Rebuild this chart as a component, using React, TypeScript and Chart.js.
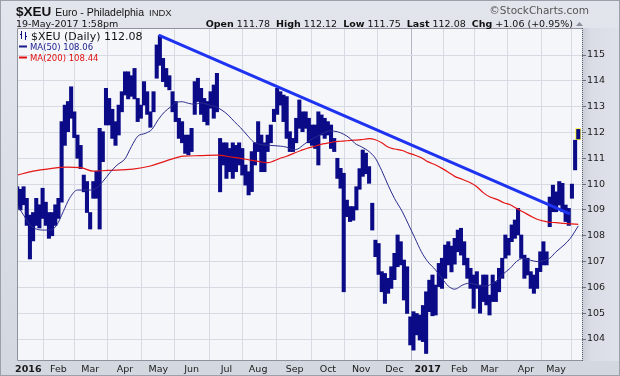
import { useEffect, useRef } from 'react';
import { Chart, registerables } from 'chart.js';

Chart.register(...registerables);

// ---- data (trading-day index, 0 = first session of Jan 2016) ----
const barIdx = [
  -7, -5, -3, -1, 1, 3, 5, 7, 9, 11, 13, 15, 17, 19, 21, 23, 25, 27, 29, 31, 33, 35, 37, 39, 41, 43, 45, 47, 49, 51,
  53, 55, 57, 59, 61, 63, 65, 67, 69, 71, 73, 75, 77, 79, 81, 83, 85, 87, 89, 91, 93, 95, 97, 99, 101, 103, 105, 107, 109, 111,
  113, 115, 117, 119, 121, 123, 125, 127, 129, 131, 133, 135, 137, 139, 141, 143, 145, 147, 149, 151, 153, 155, 157, 159, 161, 163, 165, 167, 169, 171,
  173, 175, 177, 179, 181, 183, 185, 187, 189, 191, 193, 195, 197, 199, 201, 203, 205, 207, 209, 211, 213, 215, 217, 219, 221, 223, 225, 227, 229, 231,
  233, 235, 237, 239, 241, 243, 245, 247, 249, 251, 253, 255, 257, 259, 261, 263, 265, 267, 269, 271, 273, 275, 277, 279, 281, 283, 285, 287, 289, 291,
  293, 295, 297, 299, 301, 303, 305, 307, 309, 311, 313, 315, 317, 319, 321, 323, 325, 327, 329, 331, 333, 335, 337, 339, 341, 343, 345, 347,
];
const barHigh = [
  109.90, 109.80, 109.90, 109.45, 108.80, 108.90, 109.45, 109.20, 109.84, 109.30, 108.90, 108.90, 109.20, 109.45, 112.42, 113.06, 113.20, 113.77, 112.80, 111.90,
  111.50, 110.35, 110.10, 108.90, 110.10, 110.50, 112.16, 112.03, 113.71, 113.32, 112.90, 112.42, 113.06, 113.58, 114.35, 114.35, 114.20, 114.48, 113.32, 113.06,
  113.97, 113.58, 112.80, 113.58, 115.39, 115.75, 114.87, 114.48, 114.20, 113.58, 113.20, 112.55, 112.42, 111.90, 111.90, 112.16, 113.97, 114.10, 113.71, 113.32,
  113.20, 113.58, 113.84, 114.29, 111.77, 111.60, 111.60, 111.38, 111.60, 111.50, 111.60, 111.38, 110.74, 110.48, 111.26, 111.60, 112.42, 111.90, 111.60, 111.90,
  112.29, 112.90, 113.71, 113.58, 113.45, 113.39, 112.03, 111.77, 112.55, 113.26, 112.80, 112.80, 112.55, 112.29, 112.29, 112.80, 112.68, 112.55, 112.42, 112.29,
  111.77, 111.00, 110.61, 110.42, 109.38, 109.13, 109.13, 109.90, 110.60, 111.32, 111.20, 110.68, 109.26, 107.83, 107.70, 106.61, 106.54, 106.35, 106.80, 107.32,
  108.03, 107.77, 107.06, 106.80, 104.86, 105.06, 104.99, 104.93, 105.30, 105.83, 106.28, 106.48, 106.09, 106.93, 107.13, 107.64, 107.77, 107.60, 107.90, 108.22,
  108.29, 107.77, 107.13, 106.74, 106.48, 106.61, 106.09, 106.48, 106.48, 105.70, 106.48, 106.22, 106.74, 107.13, 108.03, 107.90, 108.42, 108.61, 109.06, 108.03,
  107.25, 107.13, 106.61, 106.48, 106.74, 107.38, 107.77, 107.38, 109.50, 109.96, 109.70, 110.10, 110.03, 109.19, 109.06, 110.00, 111.70, 112.12,
];
const barLow = [
  109.06, 109.00, 109.20, 108.40, 107.10, 107.80, 108.40, 108.30, 108.67, 108.40, 107.90, 108.00, 108.40, 108.67, 109.30, 111.50, 112.03, 112.55, 111.80, 111.00,
  110.60, 109.70, 108.90, 108.26, 109.45, 109.45, 108.26, 110.87, 112.29, 112.29, 111.77, 111.50, 111.90, 112.80, 113.45, 113.30, 113.40, 113.30, 112.42, 112.55,
  113.06, 112.70, 112.20, 112.80, 114.10, 114.60, 113.97, 113.77, 113.65, 112.80, 112.42, 111.77, 111.60, 111.19, 111.13, 111.26, 112.70, 113.20, 112.70, 112.42,
  112.29, 112.94, 112.55, 112.80, 109.70, 110.74, 110.22, 110.48, 110.22, 110.48, 110.74, 110.35, 109.96, 109.58, 109.71, 110.74, 111.26, 110.48, 110.48, 111.26,
  111.60, 112.42, 112.70, 113.06, 112.42, 111.77, 111.26, 111.26, 111.60, 112.16, 112.03, 112.16, 111.60, 111.50, 111.38, 110.74, 111.90, 111.77, 111.90, 111.38,
  111.26, 110.22, 109.84, 105.83, 108.74, 108.55, 108.60, 109.00, 109.80, 110.30, 110.40, 110.03, 108.22, 107.19, 106.50, 105.83, 105.38, 105.77, 105.96, 106.30,
  106.80, 106.87, 105.51, 104.99, 103.77, 103.57, 104.16, 103.96, 103.90, 103.44, 105.06, 104.90, 104.93, 106.03, 105.96, 106.35, 106.87, 106.60, 106.90, 107.38,
  107.25, 106.87, 106.35, 105.96, 105.19, 105.96, 105.00, 105.45, 105.32, 104.93, 105.45, 105.45, 105.83, 106.35, 107.13, 107.25, 107.77, 107.90, 108.03, 107.13,
  106.35, 106.48, 105.96, 105.77, 105.96, 106.61, 106.87, 106.87, 108.35, 108.93, 108.93, 109.19, 108.93, 108.55, 108.40, 109.45, 110.55, 111.75,
];

const ma50Idx = [-7, -3, 1, 5, 10, 14, 18, 22, 26, 31, 35, 39, 43, 47, 52, 56, 61, 65, 69, 74, 78, 82, 86, 90, 93, 97, 101, 105, 109, 114,
  118, 122, 126, 130, 134, 138, 142, 146, 150, 155, 159, 163, 167, 170, 174, 178, 182, 186, 190, 195, 199, 203, 206, 210, 215, 219, 223, 227, 231, 236,
  240, 244, 248, 252, 257, 261, 265, 269, 274, 278, 283, 287, 291, 296, 300, 304, 308, 312, 317, 321, 325, 329, 333, 338, 342, 345, 347];
const ma50Val = [109.19, 108.80, 108.42, 108.26, 108.22, 108.22, 108.42, 108.93, 109.45, 109.77, 109.77, 109.77, 109.84, 110.10, 110.48, 110.74, 110.98, 111.45, 111.85, 111.97,
  112.12, 112.50, 112.80, 113.00, 113.15, 113.19, 113.13, 113.09, 113.15, 113.06, 113.00, 112.87, 112.68, 112.42, 112.18, 111.90, 111.64, 111.54, 111.51, 111.49,
  111.47, 111.43, 111.33, 111.36, 111.54, 111.71, 111.84, 111.97, 112.06, 112.03, 111.93, 111.77, 111.58, 111.45, 111.26, 111.00, 110.52, 109.96, 109.45, 108.93,
  108.42, 107.90, 107.38, 107.00, 106.67, 106.35, 106.05, 105.93, 106.09, 106.16, 106.10, 106.05, 106.09, 106.29, 106.54, 106.74, 107.00, 107.12, 107.05, 107.00,
  107.03, 107.13, 107.38, 107.64, 107.90, 108.18, 108.38];

const ma200Idx = [-7, 3, 14, 24, 33, 41, 50, 66, 77, 87, 98, 108, 119, 128, 134, 140, 146, 151, 155, 159, 163, 167, 172, 176, 180, 184, 188, 193, 197, 201,
  206, 210, 215, 219, 223, 227, 231, 236, 240, 244, 248, 252, 257, 261, 265, 269, 274, 278, 283, 287, 291, 296, 300, 304, 308, 312, 317, 321, 325, 329,
  333, 338, 342, 347];
const ma200Val = [110.35, 110.50, 110.60, 110.66, 110.64, 110.50, 110.53, 110.58, 110.70, 110.90, 111.08, 111.10, 111.12, 111.05, 111.00, 110.93, 110.87, 110.83, 110.90, 111.00,
  111.08, 111.18, 111.30, 111.39, 111.45, 111.53, 111.58, 111.64, 111.66, 111.68, 111.70, 111.72, 111.76, 111.72, 111.60, 111.44, 111.36, 111.30, 111.20, 111.12,
  111.02, 110.87, 110.74, 110.61, 110.46, 110.30, 110.18, 110.08, 109.90, 109.67, 109.51, 109.40, 109.28, 109.20, 109.06, 108.93, 108.76, 108.64, 108.57, 108.52,
  108.51, 108.48, 108.46, 108.44];

const trendIdx = [83, 341];
const trendVal = [115.75, 108.87];

const monthTickIdx = [0, 19, 39, 61, 82, 103, 125, 145, 168, 189, 210, 231, 252, 272, 291, 314, 333];
const monthLabels = ['2016', 'Feb', 'Mar', 'Apr', 'May', 'Jun', 'Jul', 'Aug', 'Sep', 'Oct', 'Nov', 'Dec', '2017', 'Feb', 'Mar', 'Apr', 'May'];
const yTicks = [104, 105, 106, 107, 108, 109, 110, 111, 112, 113, 114, 115];
const yearTicks = [0, 252];

const F = '"DejaVu Sans", Verdana, sans-serif';
const A = '"Liberation Sans", Arial, sans-serif';
const NAVY = '#0b0b88';

function runs(ctx: CanvasRenderingContext2D, x: number, y: number, parts: [string, string, string][]) {
  for (const [t, font, color] of parts) {
    ctx.font = font;
    ctx.fillStyle = color;
    ctx.fillText(t, x, y);
    x += ctx.measureText(t).width;
  }
  return x;
}
function runsWidth(ctx: CanvasRenderingContext2D, parts: [string, string, string][]) {
  let w = 0;
  for (const [t, font] of parts) { ctx.font = font; w += ctx.measureText(t).width; }
  return w;
}

const decor = {
  id: 'decor',
  beforeDraw(chart: any) {
    const { ctx, chartArea: a, width, height } = chart;
    ctx.save();
    const g = ctx.createLinearGradient(0, 0, 0, height);
    g.addColorStop(0, '#e2e5ec');
    g.addColorStop(1, '#d3d7e0');
    ctx.fillStyle = g;
    ctx.fillRect(0, 0, width, height);
    const g2 = ctx.createLinearGradient(a.right, 0, width, 0);
    g2.addColorStop(0, '#c9cdd8');
    g2.addColorStop(0.25, '#dadde6');
    g2.addColorStop(1, '#dfe2ea');
    ctx.fillStyle = g2;
    ctx.fillRect(a.right, a.top, width - a.right - 1, a.bottom - a.top);
    ctx.fillStyle = '#f5f6fa';
    ctx.fillRect(a.left, a.top, a.right - a.left, a.bottom - a.top);
    ctx.strokeStyle = '#9ca0aa';
    ctx.lineWidth = 1;
    ctx.strokeRect(0.5, 0.5, width - 1, height - 1);
    ctx.restore();
  },
  beforeDatasetsDraw(chart: any) {
    const { ctx, scales } = chart;
    const i = barIdx.length - 1;
    const x = scales.x.getPixelForValue(barIdx[i]);
    const y1 = scales.y.getPixelForValue(barHigh[i]);
    const y2 = scales.y.getPixelForValue(barLow[i]);
    ctx.save();
    ctx.fillStyle = '#fff200';
    ctx.fillRect(x - 2.8, y1 - 1, 5.2, y2 - y1 + 2);
    ctx.restore();
  },
  afterDraw(chart: any) {
    const { ctx, chartArea: a } = chart;
    ctx.save();
    // plot frame (left, top, bottom)
    ctx.strokeStyle = '#8f939d';
    ctx.lineWidth = 1;
    ctx.beginPath();
    ctx.moveTo(a.right, a.top + 0.5);
    ctx.lineTo(a.left + 0.5, a.top + 0.5);
    ctx.lineTo(a.left + 0.5, a.bottom - 0.5);
    ctx.lineTo(a.right, a.bottom - 0.5);
    ctx.stroke();
    // dotted right axis line
    ctx.strokeStyle = '#5f636d';
    ctx.setLineDash([1, 1]);
    ctx.beginPath();
    ctx.moveTo(a.right + 0.5, a.top);
    ctx.lineTo(a.right + 0.5, a.bottom);
    ctx.stroke();
    ctx.setLineDash([]);

    ctx.textBaseline = 'alphabetic';
    // header line 1
    let x = runs(ctx, 16, 16, [['$XEU', `bold 13.5px ${A}`, '#111']]);
    x = runs(ctx, x + 4, 16, [['Euro - Philadelphia', `10.5px ${A}`, '#111']]);
    runs(ctx, x + 5, 16, [['INDX', `9.5px ${A}`, '#222']]);
    ctx.font = `10.5px ${F}`;
    ctx.fillStyle = '#555';
    ctx.textAlign = 'right';
    ctx.fillText('\u00A9StockCharts.com', 589, 14);
    ctx.textAlign = 'left';

    // header line 2
    runs(ctx, 16, 27, [['19-May-2017 1:58pm', `9.5px ${F}`, '#111']]);
    const B = `bold 9.5px ${F}`;
    const N = `9.5px ${F}`;
    const stats: [string, string, string][] = [
      ['Open', B, '#111'], [' 111.78  ', N, '#111'],
      ['High', B, '#111'], [' 112.12  ', N, '#111'],
      ['Low', B, '#111'], [' 111.75  ', N, '#111'],
      ['Last', B, '#111'], [' 112.08  ', N, '#111'],
      ['Chg', B, '#111'], [' +1.06 (+0.95%)', N, '#111'],
    ];
    const w = runsWidth(ctx, stats);
    runs(ctx, 573 - w, 27, stats);
    ctx.fillStyle = '#8a8e98';
    ctx.beginPath();
    ctx.moveTo(576, 26);
    ctx.lineTo(583, 26);
    ctx.lineTo(579.5, 22);
    ctx.closePath();
    ctx.fill();

    // legend
    ctx.strokeStyle = NAVY;
    ctx.lineWidth = 1;
    ctx.beginPath();
    ctx.moveTo(21.5, 31); ctx.lineTo(21.5, 39);
    ctx.moveTo(20, 34.5); ctx.lineTo(21.5, 34.5);
    ctx.moveTo(25.5, 32); ctx.lineTo(25.5, 40);
    ctx.moveTo(25.5, 36.5); ctx.lineTo(27, 36.5);
    ctx.stroke();
    runs(ctx, 31, 39.5, [['$XEU (Daily) 112.08', `11px ${F}`, '#111']]);
    ctx.fillStyle = '#1a1a8a';
    ctx.fillRect(19, 45.5, 8, 2);
    runs(ctx, 30, 50, [['MA(50) 108.06', `8.5px ${F}`, '#1a1a8a']]);
    ctx.fillStyle = '#e01010';
    ctx.fillRect(19, 56.5, 8, 2);
    runs(ctx, 30, 61, [['MA(200) 108.44', `8.5px ${F}`, '#e01010']]);
    ctx.restore();
  },
};

export default function App() {
  const ref = useRef<HTMLCanvasElement>(null);
  useEffect(() => {
    const bars = barIdx.map((x, i) => ({ x, y: [barLow[i], barHigh[i]] }));
    const ma50 = ma50Idx.map((x, i) => ({ x, y: ma50Val[i] }));
    const ma200 = ma200Idx.map((x, i) => ({ x, y: ma200Val[i] }));
    const trend = trendIdx.map((x, i) => ({ x, y: trendVal[i] }));
    const chart = new Chart(ref.current as HTMLCanvasElement, {
      type: 'bar',
      data: {
        datasets: [
          { type: 'line', data: trend, borderColor: '#1d33f0', borderWidth: 3, pointRadius: 0, order: 1, borderCapStyle: 'round' } as any,
          { type: 'line', data: ma50, borderColor: '#2b2b8c', borderWidth: 1, pointRadius: 0, cubicInterpolationMode: 'monotone', order: 2 } as any,
          { type: 'line', data: ma200, borderColor: '#e41616', borderWidth: 1.2, pointRadius: 0, cubicInterpolationMode: 'monotone', order: 3 } as any,
          { type: 'bar', data: bars, backgroundColor: NAVY, barThickness: 3.4, borderWidth: 0, order: 4 } as any,
        ],
      },
      options: {
        responsive: false,
        animation: false,
        events: [],
        devicePixelRatio: 1,
        layout: { padding: { left: 17, top: 28, right: 0, bottom: 0 } },
        plugins: { legend: { display: false }, tooltip: { enabled: false } },
        scales: {
          x: {
            type: 'linear',
            min: -7.15,
            max: 349.35,
            offset: false,
            border: { display: false },
            grid: {
              drawTicks: false,
              color: (c: any) => (c.tick && c.tick.value === 252 ? '#b3b7c1' : '#d7dae2'),
            },
            afterBuildTicks: (s: any) => { s.ticks = monthTickIdx.map((v) => ({ value: v })); },
            afterFit: (s: any) => { s.height = 15; s.paddingLeft = 0; s.paddingRight = 0; },
            ticks: {
              autoSkip: false,
              maxRotation: 0,
              padding: 3,
              color: '#1a1a1a',
              font: (c: any) => ({ family: F, size: 9.5, weight: c.tick && yearTicks.includes(c.tick.value) ? 'bold' : 'normal' }),
              callback: (v: any) => monthLabels[monthTickIdx.indexOf(Number(v))] ?? '',
            },
          },
          y: {
            type: 'linear',
            position: 'right',
            min: 103.149,
            max: 116.046,
            border: { display: false },
            grid: { color: '#d7dae2', drawTicks: true, tickLength: 4, tickColor: '#6d717b' },
            afterBuildTicks: (s: any) => { s.ticks = yTicks.map((v) => ({ value: v })); },
            afterFit: (s: any) => { s.width = 38; s.paddingTop = 0; s.paddingBottom = 0; },
            ticks: {
              padding: 1,
              color: '#1a1a1a',
              font: { family: F, size: 9.5 },
              callback: (v: any) => String(v),
            },
          },
        },
      },
      plugins: [decor],
    } as any);
    return () => chart.destroy();
  }, []);
  return (
    <div style={{ position: 'fixed', left: 0, top: 0, width: 620, height: 376 }}>
      <canvas ref={ref} width={620} height={376} style={{ display: 'block', width: 620, height: 376 }} />
    </div>
  );
}
